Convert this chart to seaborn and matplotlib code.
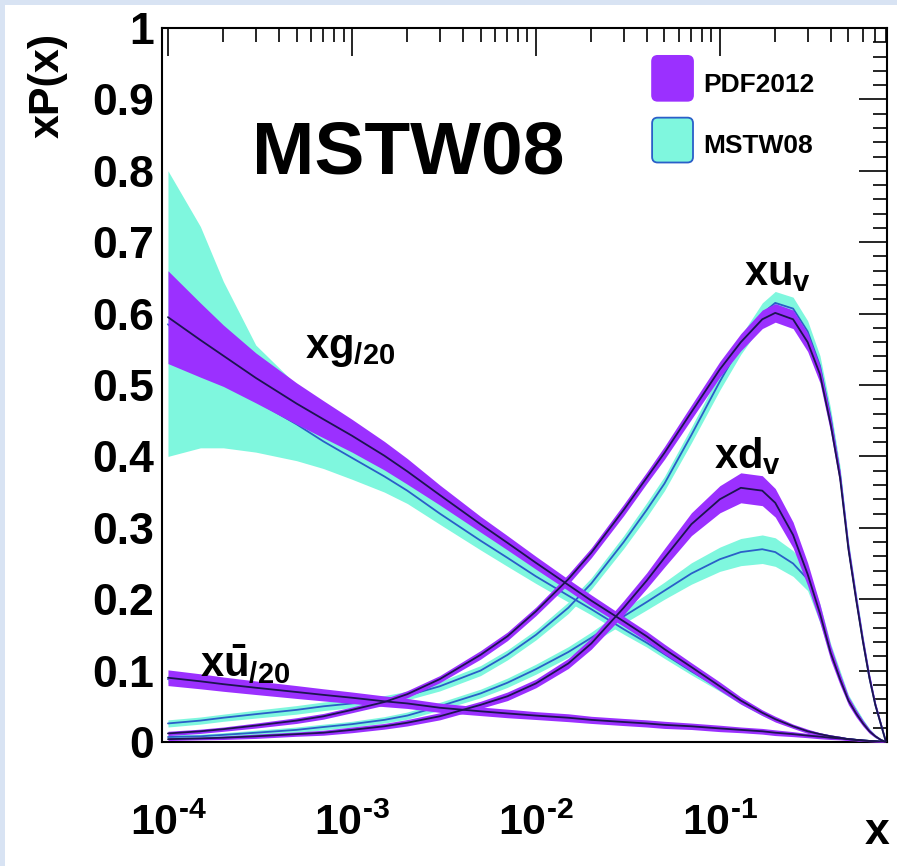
import numpy as np
import pandas as pd
import matplotlib
matplotlib.use("Agg")
import matplotlib.pyplot as plt
import seaborn as sns
from matplotlib.patches import Patch, Rectangle, FancyBboxPatch
from matplotlib.legend_handler import HandlerPatch
from matplotlib.ticker import FixedLocator, FixedFormatter, NullFormatter

# ---------------- data ----------------
x_vals = [1e-4, 1.5e-4, 2e-4, 3e-4, 5e-4,
          7e-4, 1e-3, 1.5e-3, 2e-3, 3e-3,
          5e-3, 7e-3, 1e-2, 1.5e-2, 2e-2,
          3e-2, 4e-2, 5e-2, 7e-2, 0.1,
          0.13, 0.17, 0.2, 0.25, 0.3,
          0.35, 0.4, 0.45, 0.5, 0.55,
          0.6, 0.65, 0.7, 0.75, 0.8]

# gluon / 20
g_pdf = [0.595, 0.563, 0.541, 0.510, 0.474,
         0.452, 0.429, 0.401, 0.379, 0.346,
         0.305, 0.279, 0.251, 0.220, 0.198,
         0.169, 0.148, 0.130, 0.105, 0.078,
         0.058, 0.041, 0.032, 0.022, 0.015,
         0.011, 0.008, 0.006, 0.004, 0.003,
         0.002, 0.0015, 0.001, 0.0005, 0.0]
g_pdf_err = [0.065, 0.052, 0.043, 0.035, 0.029,
             0.026, 0.023, 0.020, 0.018, 0.014,
             0.011, 0.010, 0.009, 0.008, 0.008,
             0.007, 0.007, 0.007, 0.006, 0.006,
             0.005, 0.004, 0.004, 0.003, 0.003,
             0.002, 0.002, 0.002, 0.0015, 0.001,
             0.001, 0.001, 0.0005, 0.0005, 0.0]
g_mstw = [0.585, 0.545, 0.518, 0.478, 0.445,
          0.421, 0.398, 0.372, 0.352, 0.320,
          0.282, 0.258, 0.232, 0.205, 0.186,
          0.158, 0.139, 0.123, 0.099, 0.075,
          0.056, 0.039, 0.031, 0.021, 0.015,
          0.011, 0.008, 0.006, 0.004, 0.003,
          0.002, 0.0015, 0.001, 0.0005, 0.0]
g_mstw_lo = [0.400, 0.412, 0.412, 0.406, 0.394,
             0.383, 0.368, 0.350, 0.334, 0.305,
             0.269, 0.246, 0.222, 0.196, 0.178,
             0.151, 0.133, 0.117, 0.094, 0.071,
             0.053, 0.037, 0.029, 0.020, 0.014,
             0.010, 0.007, 0.005, 0.0035, 0.0025,
             0.0015, 0.001, 0.0005, 0.0, 0.0]
g_mstw_hi = [0.800, 0.722, 0.645, 0.556, 0.500,
             0.465, 0.432, 0.397, 0.372, 0.336,
             0.296, 0.270, 0.243, 0.214, 0.194,
             0.165, 0.145, 0.129, 0.104, 0.079,
             0.059, 0.041, 0.033, 0.022, 0.016,
             0.012, 0.009, 0.007, 0.0045, 0.0035,
             0.0025, 0.002, 0.0015, 0.001, 0.0]

# u-bar / 20
ub_pdf = [0.090, 0.085, 0.081, 0.076, 0.070,
          0.066, 0.062, 0.057, 0.054, 0.048,
          0.043, 0.040, 0.037, 0.034, 0.031,
          0.028, 0.026, 0.024, 0.022, 0.019,
          0.017, 0.015, 0.013, 0.011, 0.009,
          0.0075, 0.006, 0.005, 0.004, 0.003,
          0.0022, 0.0015, 0.001, 0.0005, 0.0]
ub_pdf_err = [0.011, 0.0105, 0.010, 0.0095, 0.009,
              0.0085, 0.008, 0.0075, 0.007, 0.0065,
              0.006, 0.006, 0.0055, 0.0055, 0.005,
              0.005, 0.005, 0.005, 0.0045, 0.0045,
              0.004, 0.004, 0.004, 0.0035, 0.003,
              0.003, 0.0025, 0.002, 0.002, 0.0015,
              0.0015, 0.001, 0.001, 0.0005, 0.0]
ub_mstw = [0.088, 0.083, 0.079, 0.074, 0.068,
           0.064, 0.060, 0.055, 0.052, 0.047,
           0.042, 0.039, 0.036, 0.033, 0.030,
           0.027, 0.025, 0.023, 0.021, 0.018,
           0.016, 0.014, 0.013, 0.011, 0.009,
           0.0075, 0.006, 0.005, 0.004, 0.003,
           0.0022, 0.0015, 0.001, 0.0005, 0.0]
ub_mstw_err = [0.006, 0.0055, 0.005, 0.005, 0.0045,
               0.004, 0.004, 0.004, 0.0035, 0.0035,
               0.003, 0.003, 0.003, 0.003, 0.0025,
               0.0025, 0.0025, 0.0025, 0.0025, 0.002,
               0.002, 0.002, 0.002, 0.002, 0.0015,
               0.0015, 0.0015, 0.001, 0.001, 0.001,
               0.001, 0.0005, 0.0005, 0.0, 0.0]

# u valence
uv_pdf = [0.012, 0.015, 0.018, 0.023, 0.030,
          0.036, 0.045, 0.056, 0.067, 0.088,
          0.122, 0.148, 0.183, 0.228, 0.265,
          0.325, 0.370, 0.405, 0.462, 0.522,
          0.560, 0.592, 0.601, 0.592, 0.560,
          0.515, 0.445, 0.370, 0.270, 0.200,
          0.140, 0.090, 0.052, 0.025, 0.0]
uv_pdf_err = [0.003, 0.003, 0.003, 0.0035, 0.004,
              0.004, 0.004, 0.0045, 0.005, 0.005,
              0.006, 0.006, 0.006, 0.007, 0.007,
              0.008, 0.008, 0.009, 0.010, 0.011,
              0.012, 0.013, 0.013, 0.013, 0.013,
              0.012, 0.011, 0.010, 0.009, 0.008,
              0.007, 0.006, 0.004, 0.003, 0.0]
uv_mstw = [0.026, 0.030, 0.034, 0.039, 0.045,
           0.050, 0.054, 0.059, 0.065, 0.078,
           0.100, 0.122, 0.150, 0.188, 0.222,
           0.280, 0.325, 0.362, 0.430, 0.505,
           0.556, 0.600, 0.615, 0.607, 0.575,
           0.527, 0.455, 0.375, 0.272, 0.202,
           0.141, 0.090, 0.052, 0.025, 0.0]
uv_mstw_err = [0.005, 0.005, 0.005, 0.0055, 0.006,
               0.006, 0.006, 0.006, 0.006, 0.0065,
               0.007, 0.007, 0.007, 0.008, 0.008,
               0.009, 0.010, 0.010, 0.011, 0.012,
               0.013, 0.015, 0.016, 0.016, 0.015,
               0.014, 0.012, 0.011, 0.010, 0.009,
               0.008, 0.006, 0.004, 0.003, 0.0]

# d valence
dv_pdf = [0.004, 0.005, 0.006, 0.008, 0.011,
          0.013, 0.017, 0.022, 0.027, 0.036,
          0.052, 0.064, 0.082, 0.110, 0.138,
          0.188, 0.226, 0.258, 0.305, 0.340,
          0.356, 0.352, 0.335, 0.290, 0.235,
          0.180, 0.125, 0.088, 0.058, 0.040,
          0.026, 0.015, 0.008, 0.003, 0.0]
dv_pdf_err = [0.002, 0.002, 0.0025, 0.003, 0.003,
              0.0035, 0.004, 0.004, 0.0045, 0.005,
              0.005, 0.006, 0.006, 0.007, 0.008,
              0.010, 0.011, 0.013, 0.016, 0.019,
              0.021, 0.021, 0.020, 0.018, 0.016,
              0.013, 0.010, 0.008, 0.006, 0.005,
              0.004, 0.003, 0.002, 0.001, 0.0]
dv_mstw = [0.007, 0.008, 0.010, 0.013, 0.017,
           0.021, 0.025, 0.031, 0.037, 0.050,
           0.068, 0.083, 0.102, 0.126, 0.146,
           0.176, 0.196, 0.212, 0.236, 0.256,
           0.266, 0.270, 0.266, 0.250, 0.228,
           0.180, 0.128, 0.092, 0.060, 0.043,
           0.028, 0.016, 0.008, 0.003, 0.0]
dv_mstw_err = [0.003, 0.003, 0.003, 0.0035, 0.004,
               0.004, 0.004, 0.0045, 0.005, 0.0055,
               0.006, 0.0065, 0.007, 0.0075, 0.008,
               0.010, 0.011, 0.012, 0.015, 0.017,
               0.019, 0.020, 0.020, 0.018, 0.016,
               0.013, 0.010, 0.008, 0.006, 0.005,
               0.004, 0.003, 0.002, 0.001, 0.0]

legend_labels = ["PDF2012", "MSTW08"]
y_tick_labels = ["0", "0.1", "0.2", "0.3", "0.4", "0.5", "0.6", "0.7", "0.8", "0.9", "1"]
x_tick_labels = [r"$\mathbf{10}^{\text{-4}}$", r"$\mathbf{10}^{\text{-3}}$",
                 r"$\mathbf{10}^{\text{-2}}$", r"$\mathbf{10}^{\text{-1}}$"]

# ---------------- build tables ----------------
x = np.array(x_vals)


def band(c, lo=None, hi=None, err=None):
    c = np.array(c)
    if err is not None:
        e = np.array(err)
        return c, c - e, c + e
    return c, np.array(lo), np.array(hi)


pdf_sets = {
    "g": band(g_pdf, err=g_pdf_err),
    "ub": band(ub_pdf, err=ub_pdf_err),
    "uv": band(uv_pdf, err=uv_pdf_err),
    "dv": band(dv_pdf, err=dv_pdf_err),
}
mstw_sets = {
    "g": band(g_mstw, lo=g_mstw_lo, hi=g_mstw_hi),
    "ub": band(ub_mstw, err=ub_mstw_err),
    "uv": band(uv_mstw, err=uv_mstw_err),
    "dv": band(dv_mstw, err=dv_mstw_err),
}


def to_long(sets, name):
    rows = []
    for k, (c, lo, hi) in sets.items():
        rows.append(pd.DataFrame({"x": x, "val": c, "lo": lo, "hi": hi, "pdf": k, "set": name}))
    return pd.concat(rows, ignore_index=True)


df_pdf = to_long(pdf_sets, "PDF2012")
df_mstw = to_long(mstw_sets, "MSTW08")

# ---------------- style ----------------
sns.set_theme(style="white")
plt.rcParams['font.family'] = ['Liberation Sans', 'DejaVu Sans']
plt.rcParams['font.weight'] = 'bold'
plt.rcParams['text.color'] = 'black'
plt.rcParams['axes.labelcolor'] = 'black'
plt.rcParams['xtick.color'] = 'black'
plt.rcParams['ytick.color'] = 'black'
plt.rcParams['mathtext.fontset'] = 'custom'
plt.rcParams['mathtext.rm'] = 'Liberation Sans:bold'
plt.rcParams['mathtext.bf'] = 'Liberation Sans:bold'
plt.rcParams['mathtext.it'] = 'Liberation Sans:bold'
plt.rcParams['mathtext.sf'] = 'Liberation Sans:bold'

PURPLE = "#9b30ff"
CYAN = "#7ff7de"
BLUE = "#2a5fc8"
DARK = "#1c1450"

W, H = 897, 866
fig = plt.figure(figsize=(W / 100, H / 100), dpi=100)
fig.patch.set_facecolor("#d8e3f3")
fig.add_artist(Rectangle((5 / W, 0), 1, 1 - 5 / H, transform=fig.transFigure,
                         facecolor="white", edgecolor="none", zorder=0))
ax = fig.add_axes([162 / W, 1 - 742 / H, 725 / W, 714 / H])
ax.set_facecolor("white")
ax.set_xscale("log")

# bands and central lines
for k, g in df_mstw.groupby("pdf", sort=False):
    ax.fill_between(g["x"], g["lo"], g["hi"], color=CYAN, lw=0, zorder=1)
sns.lineplot(data=df_mstw, x="x", y="val", units="pdf", estimator=None, sort=False,
             color=BLUE, lw=1.3, ax=ax, zorder=2, legend=False)
for k, g in df_pdf.groupby("pdf", sort=False):
    ax.fill_between(g["x"], g["lo"], g["hi"], color=PURPLE, lw=0, zorder=3)
sns.lineplot(data=df_pdf, x="x", y="val", units="pdf", estimator=None, sort=False,
             color=DARK, lw=1.3, ax=ax, zorder=4, legend=False)

ax.set_xlim(9.28e-5, 0.81)
ax.set_ylim(0, 1)
ax.set_xlabel("")
ax.set_ylabel("")

# ticks (ROOT style)
ax.yaxis.set_major_locator(FixedLocator(np.arange(0, 1.01, 0.1)))
ax.yaxis.set_major_formatter(FixedFormatter(y_tick_labels))
ax.yaxis.set_minor_locator(FixedLocator(np.arange(0, 1.001, 0.02)))
ax.xaxis.set_major_locator(FixedLocator([1e-4, 1e-3, 1e-2, 1e-1]))
ax.xaxis.set_major_formatter(FixedFormatter(x_tick_labels))
minors = [m * 10.0 ** e for e in range(-5, 0) for m in range(2, 10)]
ax.xaxis.set_minor_locator(FixedLocator(minors))
ax.xaxis.set_minor_formatter(NullFormatter())
ax.tick_params(which="both", direction="in", top=True, right=True, color="black", width=1.2)
ax.tick_params(which="major", length=20)
ax.tick_params(which="minor", length=10)
ax.tick_params(axis="y", which="major", labelsize=32, pad=6, labelcolor="black")
ax.tick_params(axis="x", which="major", labelsize=31, pad=44, labelcolor="black")
for lab in ax.get_yticklabels():
    lab.set_fontweight("bold")
for s in ax.spines.values():
    s.set_color("black")
    s.set_linewidth(1.5)

# axis titles
fig.text(48 / W, 1 - 33 / H, "xP(x)", rotation=90, ha="center", va="top",
         fontsize=31, fontweight="bold", color="black")
fig.text(877 / W, 1 - 832 / H, "x", ha="center", va="center", fontsize=32,
         fontweight="bold", color="black")

# annotations
ax.text(0.124, 0.824, "MSTW08", transform=ax.transAxes, fontsize=54, fontweight="bold",
        ha="left", va="center", color="black")
ax.text(5.55e-4, 0.55, r"$\mathbf{xg}_{\mathbf{/20}}$", fontsize=30, ha="left", va="center")
ax.text(1.5e-4, 0.11, r"$\mathbf{x\bar{u}}_{\mathbf{/20}}$", fontsize=30, ha="left", va="center")
ax.text(0.135, 0.655, r"$\mathbf{xu}_{\mathbf{v}}$", fontsize=30, ha="left", va="center")
ax.text(0.093, 0.40, r"$\mathbf{xd}_{\mathbf{v}}$", fontsize=30, ha="left", va="center")


# legend with rounded boxes filling the whole handle area
class RoundedHandler(HandlerPatch):
    def create_artists(self, legend, orig_handle, xdescent, ydescent, width, height,
                       fontsize, trans):
        p = FancyBboxPatch((-xdescent, -ydescent), width, height + ydescent,
                           boxstyle="round,pad=0,rounding_size=4",
                           facecolor=orig_handle.get_facecolor(),
                           edgecolor=orig_handle.get_edgecolor(), lw=1.3)
        p.set_transform(trans)
        return [p]


handles = [Patch(facecolor=PURPLE, edgecolor=PURPLE, label=legend_labels[0]),
           Patch(facecolor=CYAN, edgecolor=BLUE, label=legend_labels[1])]
leg = ax.legend(handles=handles, loc="upper left", bbox_to_anchor=(0.676, 0.948),
                frameon=False, prop={"weight": "bold", "size": 19},
                handlelength=1.55, handleheight=1.7, labelspacing=0.99,
                handletextpad=0.38, borderpad=0, borderaxespad=0,
                handler_map={Patch: RoundedHandler()})
for t in leg.get_texts():
    t.set_color("black")

fig.savefig("out.png", dpi=100, facecolor=fig.get_facecolor())
